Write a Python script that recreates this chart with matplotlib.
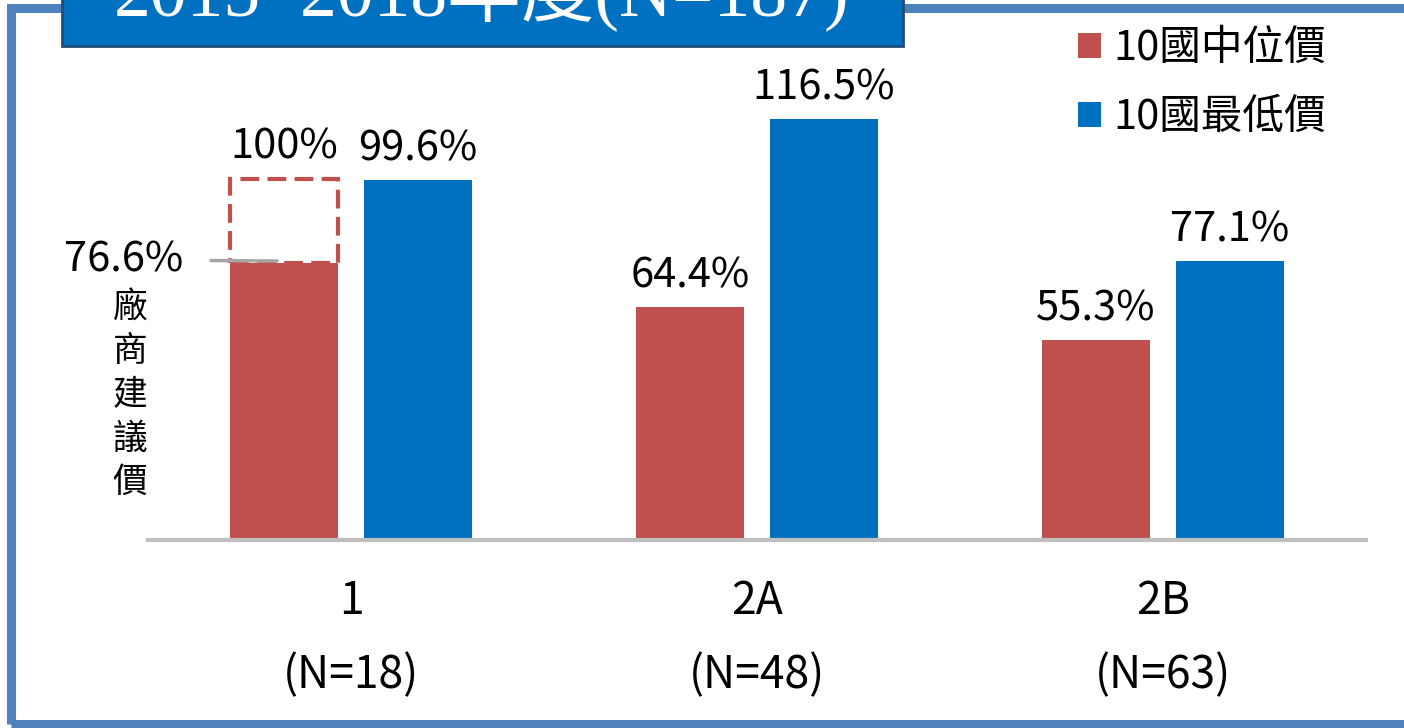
import numpy as np
import matplotlib
matplotlib.use("Agg")
import matplotlib.pyplot as plt
from matplotlib.patches import Rectangle

plt.rcParams['font.family'] = ['Noto Sans CJK TC', 'DejaVu Sans']

# Data
categories = ["1", "2A", "2B"]
n_labels = ["(N=18)", "(N=48)", "(N=63)"]
median_price = [76.6, 64.4, 55.3]
lowest_price = [99.6, 116.5, 77.1]
suggested_price = 100.0
series_names = ["10國中位價", "10國最低價"]
title = "2015~2018年度(N=187)"

red = "#C0504D"
blue = "#0070C0"
W, H = 1404, 728

def fx(px):
    return px / W

def fy(py):
    return 1 - py / H

fig = plt.figure(figsize=(W / 100, H / 100), dpi=100)
ax = fig.add_axes([fx(148), fy(540), fx(1366) - fx(148), 130 * 3.614 / H])

x = np.arange(len(categories))
bw = 0.264
off = 0.165
b1 = ax.bar(x - off, median_price, bw, color=red)
b2 = ax.bar(x + off, lowest_price, bw, color=blue)

# dashed box up to suggested price (100%)
ax.bar(x[0] - off, suggested_price - median_price[0], bw, bottom=median_price[0],
       fill=False, edgecolor=red, linestyle=(0, (4.5, 2)), linewidth=3)

# value labels
lab_fs = 30
for i in range(len(categories)):
    if i > 0:
        ax.text(x[i] - off, median_price[i] + 3, f"{median_price[i]}%", ha='center',
                va='bottom', fontsize=lab_fs)
    ax.text(x[i] + off, lowest_price[i] + 3, f"{lowest_price[i]}%", ha='center',
            va='bottom', fontsize=lab_fs)
ax.text(x[0] - off, suggested_price + 3, "100%", ha='center', va='bottom', fontsize=lab_fs)

ax.annotate(f"{median_price[0]}%", xy=(x[0] - off - 0.017, 77.2), xytext=(-0.56, 77.5),
            ha='center', va='center', fontsize=lab_fs,
            arrowprops=dict(arrowstyle='-', color='#A6A6A6', lw=2.5, shrinkA=18, shrinkB=0))
ax.text(-0.544, 69, "\n".join("廠商建議價"), ha='center', va='top', fontsize=25,
        linespacing=1.32, clip_on=False)

# category labels
for i in range(len(categories)):
    ax.text(x[i], -0.13, categories[i], transform=ax.get_xaxis_transform(),
            ha='center', va='center', fontsize=32)
    ax.text(x[i], -0.287, n_labels[i], transform=ax.get_xaxis_transform(),
            ha='center', va='center', fontsize=32)

ax.set_xlim(-0.5, 2.5)
ax.set_ylim(0, 130)
ax.set_xticks([])
ax.set_yticks([])
for s in ['top', 'right', 'left']:
    ax.spines[s].set_visible(False)
ax.spines['bottom'].set_color('#BFBFBF')
ax.spines['bottom'].set_linewidth(3)

fig.legend([b1, b2], series_names, loc='upper left',
           bbox_to_anchor=(fx(1078), fy(28)), frameon=False, fontsize=30,
           handlelength=0.55, handleheight=0.55, handletextpad=0.3, labelspacing=0.68,
           borderpad=0, borderaxespad=0)

# outer blue frame
fig.patches.append(Rectangle((fx(11), fy(724)), fx(1420) - fx(11), fy(8) - fy(724),
                             transform=fig.transFigure, fill=False,
                             edgecolor='#4F81BD', linewidth=6.5))

# title box
fig.patches.append(Rectangle((fx(62), fy(46)), fx(903) - fx(62), fy(-60) - fy(46),
                             transform=fig.transFigure, facecolor=blue,
                             edgecolor='#1F4E79', linewidth=2))
fig.text(fx(482), fy(16), title, ha='center', va='baseline', color='white',
         fontsize=53, family=['Liberation Serif', 'Noto Sans CJK TC'])

fig.savefig("out.png", dpi=100)
